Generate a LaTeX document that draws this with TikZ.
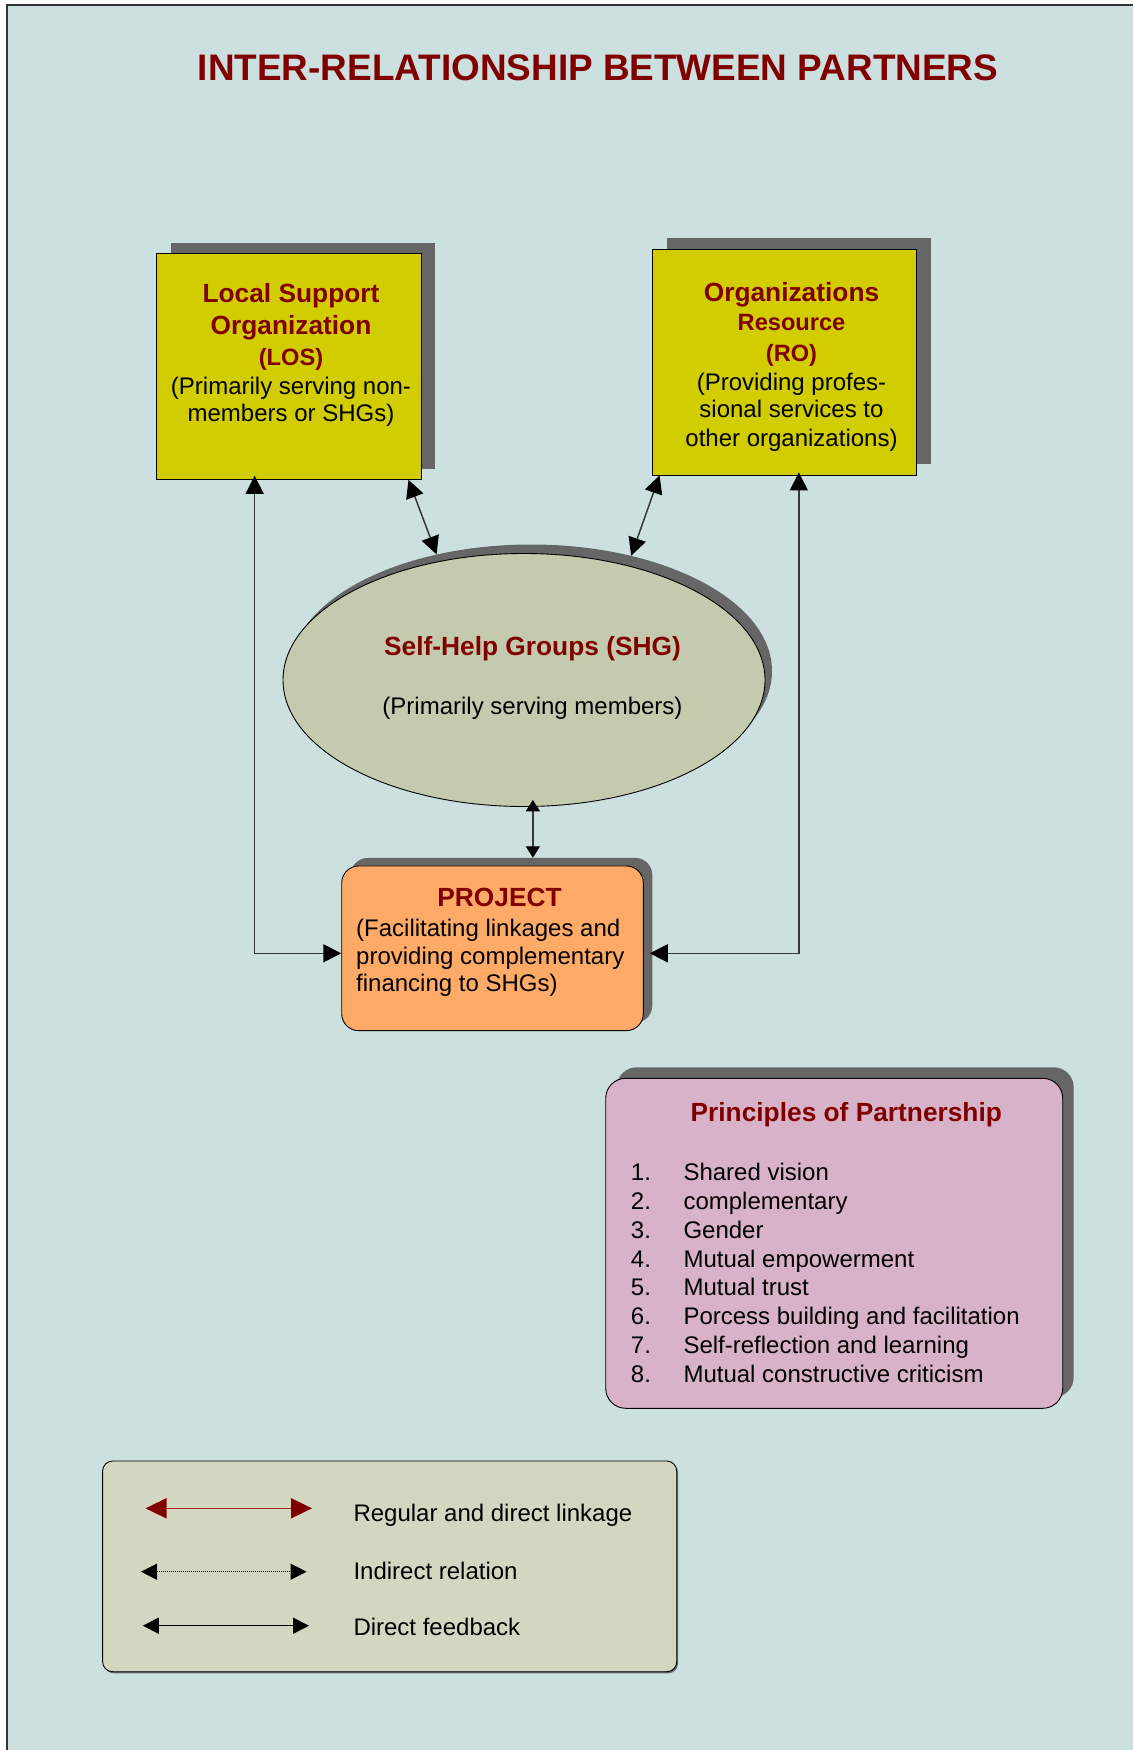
\documentclass[tikz,border=0pt]{standalone}
\usepackage{fontspec}
\setmainfont{Liberation Sans}
\usetikzlibrary{arrows.meta,shapes.geometric,calc}

\definecolor{bgblue}{RGB}{204,224,223}
\definecolor{darkred}{RGB}{128,0,0}
\definecolor{boxyellow}{RGB}{209,205,0}
\definecolor{shadowgray}{RGB}{102,102,102}
\definecolor{shgfill}{RGB}{196,202,174}
\definecolor{projfill}{RGB}{255,170,102}
\definecolor{pinkfill}{RGB}{216,178,200}
\definecolor{legendfill}{RGB}{211,215,193}
\definecolor{linkred}{RGB}{170,40,40}
\definecolor{linkgray}{RGB}{55,55,55}

\tikzset{
  box/.style={draw=black, line width=0.9pt, inner sep=0pt, rectangle},
  shadowbox/.style={fill=shadowgray, draw=none, inner sep=0pt, rectangle},
  heading/.style={anchor=base, text=darkred, inner sep=0pt,
    font=\fontsize{26.3}{30}\selectfont\bfseries},
  subheading/.style={anchor=base, text=darkred, inner sep=0pt,
    font=\fontsize{23.6}{28}\selectfont\bfseries},
  body/.style={anchor=base, text=black, inner sep=0pt,
    font=\fontsize{24}{28}\selectfont},
  link/.style={draw=linkgray, line width=1.5pt,
    {Triangle[length=18pt,width=18pt,color=black]}-{Triangle[length=18pt,width=18pt,color=black]}},
  smalllink/.style={draw=linkgray, line width=1.4pt,
    {Triangle[length=11.5pt,width=14pt,color=black]}-{Triangle[length=11.5pt,width=14pt,color=black]}},
}

\begin{document}
\begin{tikzpicture}[x=1pt,y=-1pt]
\useasboundingbox (0,0) rectangle (1133,1750);

% page background with frame on the left and top
\fill[white] (0,0) rectangle (1133,1750);
\fill[bgblue] (7,5) rectangle (1133,1750);
\draw[line width=1.5pt, black!80] (7,1750) -- (7,5) -- (1133,5);

% title
\node[anchor=base, text=darkred, inner sep=0pt,
      font=\fontsize{36.9}{40}\selectfont\bfseries] (title) at (598,81)
  {INTER-RELATIONSHIP BETWEEN PARTNERS};

% Local Support Organization
\node[shadowbox, minimum width=264.3pt, minimum height=226pt] (lossh) at (302.85,356.3) {};
\node[box, fill=boxyellow, minimum width=264.3pt, minimum height=226pt] (los) at (288.85,366.3) {};
\node[heading] (los1) at (291,302.7) {Local Support};
\node[heading] (los2) at (291,334.3) {Organization};
\node[subheading] (los3) at (291,365.5) {(LOS)};
\node[body] (los4) at (291,394.5) {(Primarily serving non-};
\node[body] (los5) at (291,421) {members or SHGs)};

% Resource Organizations
\node[shadowbox, minimum width=264pt, minimum height=226pt] (rosh) at (798.7,351) {};
\node[box, fill=boxyellow, minimum width=264pt, minimum height=226pt] (ro) at (784.7,362) {};
\node[heading] (ro1) at (791.5,301) {Organizations};
\node[subheading] (ro2) at (791.5,330.5) {Resource};
\node[subheading] (ro3) at (791.5,361) {(RO)};
\node[body] (ro4) at (791.5,390.5) {(Providing profes-};
\node[body] (ro5) at (791.5,417.8) {sional services to};
\node[body] (ro6) at (791.5,446) {other organizations)};

% Self-Help Groups
\node[ellipse, fill=shadowgray, draw=none, inner sep=0pt,
      minimum width=482pt, minimum height=253pt] (shgsh) at (531,671) {};
\node[ellipse, fill=shgfill, draw=black, line width=0.9pt, inner sep=0pt,
      minimum width=482pt, minimum height=253pt] (shg) at (524,680) {};
\node[heading] (shg1) at (532.5,655) {Self-Help Groups (SHG)};
\node[body] (shg2) at (532.5,714.3) {(Primarily serving members)};

% Project
\node[shadowbox, rounded corners=17pt, minimum width=301.6pt, minimum height=164.7pt] (prjsh) at (501.5,940.3) {};
\node[box, fill=projfill, rounded corners=17pt, minimum width=301.6pt, minimum height=164.7pt] (prj) at (492.5,948.3) {};
\node[heading] (prj1) at (499.5,906) {PROJECT};
\node[body, anchor=base west] (prj2) at (356,936) {(Facilitating linkages and};
\node[body, anchor=base west] (prj3) at (356,964.3) {providing complementary};
\node[body, anchor=base west] (prj4) at (356,991.7) {financing to SHGs)};

% connectors between partners
\draw[link] ([xshift=98.4pt,yshift=4pt]los.south west) |- ([yshift=-5pt]prj.west);
\draw[link] ([xshift=146.6pt,yshift=3pt]ro.south west) |- ([xshift=6pt,yshift=-5pt]prj.east);
\draw[link] ([xshift=-13pt]los.south east) -- (shgsh.129);
\draw[link] ([xshift=7.3pt]ro.south west) -- (shgsh.49);
\draw[smalllink] ([yshift=7pt]shg.274.5) -- (shg.274.5 |- prjsh.north);

% Principles of Partnership
\node[shadowbox, rounded corners=20pt, minimum width=457pt, minimum height=330pt] (prinsh) at (845.2,1232.3) {};
\node[box, fill=pinkfill, rounded corners=20pt, minimum width=457pt, minimum height=330pt] (prin) at (834.2,1243.3) {};
\node[heading] (printitle) at (846.3,1121.7) {Principles of Partnership};
\foreach \i/\t in {1/Shared vision, 2/complementary, 3/Gender,
                   4/Mutual empowerment, 5/Mutual trust,
                   6/Porcess building and facilitation,
                   7/Self-reflection and learning,
                   8/Mutual constructive criticism} {
  \node[body, anchor=base west] (pnum\i) at (630.7,{1180.7+(\i-1)*28.8}) {\i.};
  \node[body, anchor=base west] (pitem\i) at (683.3,{1180.7+(\i-1)*28.8}) {\t};
}

% legend
\node[fill=shadowgray, rounded corners=10pt, inner sep=0pt,
      minimum width=574.1pt, minimum height=210.7pt] (legsh) at (391,1568) {};
\node[box, fill=legendfill, rounded corners=10pt,
      minimum width=574.1pt, minimum height=210.7pt] (leg) at (389.65,1566.35) {};

\coordinate (lga1) at (145.5,1508.3);
\coordinate (lgb1) at (312,1508.3);
\coordinate (lga2) at (141,1571.7);
\coordinate (lgb2) at (306.6,1571.7);
\coordinate (lga3) at (142.8,1625.7);
\coordinate (lgb3) at (309,1625.7);

\draw[draw=linkred, line width=1.6pt,
      {Triangle[length=21pt,width=20pt,fill=darkred,color=darkred]}-{Triangle[length=21pt,width=20pt,fill=darkred,color=darkred]}]
  (lga1) -- (lgb1);
\draw[draw=black, line width=1pt, densely dotted,
      {Triangle[length=16pt,width=16pt]}-{Triangle[length=16pt,width=16pt]}]
  (lga2) -- (lgb2);
\draw[draw=black, line width=1.5pt,
      {Triangle[length=16pt,width=16pt]}-{Triangle[length=16pt,width=16pt]}]
  (lga3) -- (lgb3);

\node[body, anchor=base west] (leg1) at (353.3,1521.7) {Regular and direct linkage};
\node[body, anchor=base west] (leg2) at (353.3,1579) {Indirect relation};
\node[body, anchor=base west] (leg3) at (353.3,1635.7) {Direct feedback};
\end{tikzpicture}
\end{document}
